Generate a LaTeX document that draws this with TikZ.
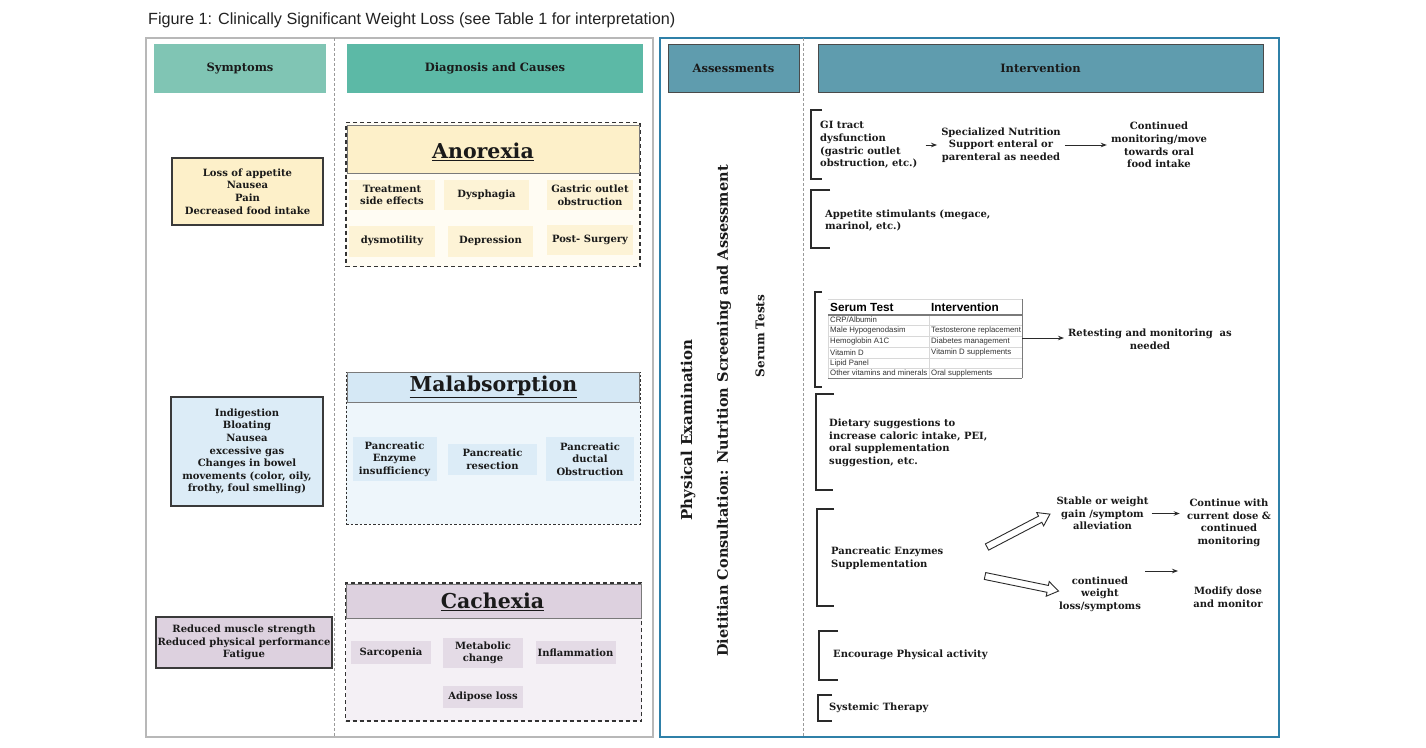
\documentclass[tikz,border=0pt]{standalone}
\usepackage{fontspec}
\usetikzlibrary{arrows.meta}
\setmainfont{DejaVu Serif}
\newfontfamily\arialf{Liberation Sans}
\definecolor{ink}{HTML}{1A1A1A}
\definecolor{titlecol}{HTML}{222222}
\definecolor{panelgray}{HTML}{B8B8B8}
\definecolor{panelblue}{HTML}{2F80A8}
\definecolor{divgray}{HTML}{9A9A9A}
\definecolor{symhead}{HTML}{80C5B4}
\definecolor{diaghead}{HTML}{5CB9A6}
\definecolor{righthead}{HTML}{5F9CAE}
\definecolor{headline}{HTML}{4A4A4A}
\definecolor{boxline}{HTML}{3A3A3A}
\definecolor{catline}{HTML}{7A7A7A}
\definecolor{dashline}{HTML}{333333}
\definecolor{brkline}{HTML}{2A2A2A}
\definecolor{anohead}{HTML}{FDF0C9}
\definecolor{anoitem}{HTML}{FDF3D6}
\definecolor{anobg}{HTML}{FFFCF3}
\definecolor{malhead}{HTML}{D5E8F5}
\definecolor{malitem}{HTML}{DCECF7}
\definecolor{malbg}{HTML}{EEF6FB}
\definecolor{cachead}{HTML}{DDD1DF}
\definecolor{cacitem}{HTML}{E4DBE6}
\definecolor{cacbg}{HTML}{F4F0F5}
\definecolor{tblhead}{HTML}{7A7A7A}
\definecolor{tblrow}{HTML}{D8D8D8}
\definecolor{tbltext}{HTML}{333333}
\begin{document}
\begin{tikzpicture}[x=1pt,y=-1pt,
  wh/.style 2 args={minimum width=#1, minimum height=#2},
  txt/.style={font=\bfseries\fontsize{10}{12.6}\selectfont, text=ink, align=center, inner sep=0pt},
  ltxt/.style={txt, align=left, anchor=west},
  hdr/.style={font=\bfseries\fontsize{11.5}{14}\selectfont, text=ink, inner sep=0pt},
  bigt/.style={font=\bfseries\fontsize{20.5}{24}\selectfont, text=ink, inner sep=0pt},
  sym/.style={txt, draw=boxline, line width=1.2pt},
  outerbox/.style={draw=dashline, line width=1.2pt, dash pattern=on 4pt off 3pt},
  cat/.style={draw=catline, line width=1pt, inner sep=0pt},
  brk/.style={draw=brkline, line width=1.2pt},
  arr/.style={-{Stealth[length=6pt,width=4.5pt]}, line width=0.9pt, draw=brkline},
  rot/.style={font=\bfseries\fontsize{15}{17}\selectfont, text=ink, rotate=90, inner sep=0pt},
  hollow/.style={draw=brkline, line width=0.9pt, fill=white, line join=miter},
  tcell/.style={font=\arialf\fontsize{7.8}{9}\selectfont, text=tbltext, anchor=west, inner sep=0pt},
  thead/.style={font=\arialf\bfseries\fontsize{11.8}{13}\selectfont, text=black, anchor=west, inner sep=0pt},
]
\useasboundingbox (0,0) rectangle (1426,747);
\fill[white] (0,0) rectangle (1426,747);

% title
\node[anchor=west, font=\arialf\fontsize{16.2}{19}\selectfont, text=titlecol, inner sep=0pt] (title) at (148,20)
  {Figure 1: Clinically Significant Weight Loss (see Table 1 for interpretation)};

% panels
\draw[panelgray, line width=1.6pt] (146,38) rectangle (653,737);
\draw[panelblue, line width=1.8pt] (660,38) rectangle (1279,737);
\draw[divgray, line width=0.8pt, dash pattern=on 3pt off 2pt] (334,38) -- (334,737);
\draw[divgray, line width=0.8pt, dash pattern=on 3pt off 2pt] (803,38) -- (803,737);

% headers
\node[hdr, fill=symhead, wh={172pt}{49pt}] (hsym) at (240,68.5) {Symptoms};
\node[hdr, fill=diaghead, wh={296pt}{49pt}] (hdiag) at (495,68.5) {Diagnosis and Causes};
\node[hdr, fill=righthead, draw=headline, line width=1pt, wh={131pt}{48pt}] (hass) at (733.5,68) {Assessments};
\node[hdr, fill=righthead, draw=headline, line width=1pt, wh={445pt}{48pt}] (hint) at (1040.5,68) {Intervention};

% ---------- Anorexia ----------
\node[sym, fill=anohead, wh={151pt}{67pt}] (s1) at (247.5,191.5)
  {Loss of appetite\\Nausea\\Pain\\Decreased food intake};
\node[outerbox, fill=anobg, wh={294pt}{144pt}, inner sep=0pt] (ano) at (493,194.5) {};
\node[cat, fill=anohead, wh={292pt}{48pt}] (anoh) at (493.5,149.5) {};
\node[bigt] (anot) at (483,152) {\underline{Anorexia}};
\node[txt, fill=anoitem, wh={86pt}{30pt}] (a1) at (392,195) {Treatment\\side effects};
\node[txt, fill=anoitem, wh={85pt}{30pt}] (a2) at (486.5,195) {Dysphagia};
\node[txt, fill=anoitem, wh={86pt}{30pt}] (a3) at (590,195) {Gastric outlet\\obstruction};
\node[txt, fill=anoitem, wh={86pt}{31pt}] (a4) at (392,241) {dysmotility};
\node[txt, fill=anoitem, wh={85pt}{31pt}] (a5) at (490.5,241) {Depression};
\node[txt, fill=anoitem, wh={86pt}{30pt}] (a6) at (590,240) {Post- Surgery};

% ---------- Malabsorption ----------
\node[sym, fill=malitem, wh={152pt}{109pt}] (s2) at (247,451.5)
  {Indigestion\\Bloating\\Nausea\\excessive gas\\Changes in bowel\\movements (color, oily,\\frothy, foul smelling)};
\node[outerbox, fill=malbg, wh={294pt}{152pt}, inner sep=0pt, dash pattern=on 2.5pt off 2pt, line width=1pt] (mal) at (493,448) {};
\node[cat, fill=malhead, wh={292pt}{30pt}] (malh) at (493.5,387) {};
\node[bigt] (malt) at (493.5,387) {\underline{Malabsorption}};
\node[txt, fill=malitem, wh={84pt}{44pt}] (m1) at (394.5,459) {Pancreatic\\Enzyme\\insufficiency};
\node[txt, fill=malitem, wh={89pt}{31pt}] (m2) at (492.5,459) {Pancreatic\\resection};
\node[txt, fill=malitem, wh={88pt}{44pt}] (m3) at (590,459) {Pancreatic\\ductal\\Obstruction};

% ---------- Cachexia ----------
\node[sym, fill=cachead, wh={176pt}{51pt}] (s3) at (244,642.5)
  {Reduced muscle strength\\Reduced physical performance\\Fatigue};
\node[outerbox, fill=cacbg, wh={296pt}{138pt}, inner sep=0pt] (cac) at (493.5,652) {};
\node[cat, fill=cachead, wh={295pt}{34pt}] (cach) at (493.5,601) {};
\node[bigt] (cact) at (492.5,602) {\underline{Cachexia}};
\node[txt, fill=cacitem, wh={80pt}{23pt}] (c1) at (391,652.5) {Sarcopenia};
\node[txt, fill=cacitem, wh={80pt}{30pt}] (c2) at (483,653) {Metabolic\\change};
\node[txt, fill=cacitem, wh={80pt}{23pt}] (c3) at (575.5,652.5) {Inflammation};
\node[txt, fill=cacitem, wh={80pt}{22pt}] (c4) at (483,697) {Adipose loss};

% ---------- Assessments ----------
\node[rot] (pe) at (688,430) {Physical Examination};
\node[rot, font=\bfseries\fontsize{14.5}{17}\selectfont] (dc) at (724,411) {Dietitian Consultation: Nutrition Screening and Assessment};
\node[rot, font=\bfseries\fontsize{12}{15}\selectfont] (st) at (760,336) {Serum Tests};

% ---------- Intervention brackets ----------
\draw[brk] (822,110) -- (811,110) -- (811,179) -- (822,179);
\draw[brk] (830,190) -- (811,190) -- (811,248) -- (830,248);
\draw[brk] (822,292) -- (815,292) -- (815,387) -- (822,387);
\draw[brk] (834,394) -- (816,394) -- (816,490) -- (833,490);
\draw[brk] (834,509) -- (817,509) -- (817,606) -- (834,606);
\draw[brk] (838,631) -- (819,631) -- (819,680) -- (838,680);
\draw[brk] (832,695) -- (818,695) -- (818,721) -- (832,721);

% GI row
\node[ltxt] (gi) at (820,145) {GI tract\\dysfunction\\(gastric outlet\\obstruction, etc.)};
\node[txt] (spec) at (1001,145) {Specialized Nutrition\\Support enteral or\\parenteral as needed};
\node[txt] (cont) at (1159,145) {Continued\\monitoring/move\\towards oral\\food intake};
\draw[arr, shorten <=8pt, shorten >=4pt] (gi.east) -- (spec.west);
\draw[arr, shorten <=4pt, shorten >=4pt] (spec.east) -- (cont.west);

% appetite
\node[ltxt] (app) at (825,220.5) {Appetite stimulants (megace,\\marinol, etc.)};

% serum table
\node[inner sep=0pt, wh={194pt}{80pt}] (tbl) at (925,338) {};
\draw[tblrow, line width=0.6pt] (828,315) -- (828,378);
\draw[tblrow, line width=0.6pt] (929,315) -- (929,378);
\foreach \yy in {325,336,347,358,368} \draw[tblrow, line width=0.6pt] (828,\yy) -- (1022,\yy);
\draw[tblhead, line width=0.8pt] (828,378) -- (1022,378);
\draw[tblhead, line width=2pt] (828,315) -- (1022,315);
\draw[tblhead, line width=1pt] (1022,299) -- (1022,378);
\draw[tblrow, line width=0.6pt] (828,299) -- (1022,299);
\node[thead] (th1) at (830,307) {Serum Test};
\node[thead] (th2) at (931,307) {Intervention};
\node[tcell] (r1) at (830,320) {CRP/Albumin};
\node[tcell] (r2) at (830,330.5) {Male Hypogenodasim};
\node[tcell] (r2b) at (931,330.5) {Testosterone replacement};
\node[tcell] (r3) at (830,341.5) {Hemoglobin A1C};
\node[tcell] (r3b) at (931,341.5) {Diabetes management};
\node[tcell] (r4) at (830,352.5) {Vitamin D};
\node[tcell] (r4b) at (931,352.5) {Vitamin D supplements};
\node[tcell] (r5) at (830,363) {Lipid Panel};
\node[tcell] (r6) at (830,373) {Other vitamins and minerals};
\node[tcell] (r6b) at (931,373) {Oral supplements};
\node[txt] (ret) at (1150,339) {Retesting and monitoring\ \ as\\needed};
\draw[arr, shorten >=4pt] (tbl.east) -- (ret.west |- tbl.east);

% dietary
\node[ltxt] (diet) at (829,443) {Dietary suggestions to\\increase caloric intake, PEI,\\oral supplementation\\suggestion, etc.};

% enzymes
\node[ltxt] (enz) at (831,558) {Pancreatic Enzymes\\Supplementation};
\node[txt] (stab) at (1102.5,513.5) {Stable or weight\\gain /symptom\\alleviation};
\node[txt] (cwith) at (1229,523) {Continue with\\current dose \&\\continued\\monitoring};
\node[txt] (cwl) at (1100,594) {continued\\weight\\loss/symptoms};
\node[txt] (mod) at (1228,597) {Modify dose\\and monitor};
\coordinate (ha1) at (987,547);
\coordinate (ha2) at (985,576);
\begin{scope}[shift={(ha1)}, rotate=27.6]
  \draw[hollow] (0,-3.5) -- (60,-3.5) -- (60,-7.5) -- (71,0) -- (60,7.5) -- (60,3.5) -- (0,3.5) -- cycle;
\end{scope}
\begin{scope}[shift={(ha2)}, rotate=-11.6]
  \draw[hollow] (0,-3.5) -- (64,-3.5) -- (64,-7.5) -- (75,0) -- (64,7.5) -- (64,3.5) -- (0,3.5) -- cycle;
\end{scope}
\draw[arr] ([xshift=3pt]stab.east) -- ([xshift=31pt]stab.east);
\coordinate (la1) at (1145,571);
\coordinate (la2) at (1178,571);
\draw[arr] (la1) -- (la2);

% physical activity / systemic therapy
\node[ltxt] (phys) at (833,655) {Encourage Physical activity};
\node[ltxt] (sys) at (829,708) {Systemic Therapy};
\end{tikzpicture}
\end{document}
